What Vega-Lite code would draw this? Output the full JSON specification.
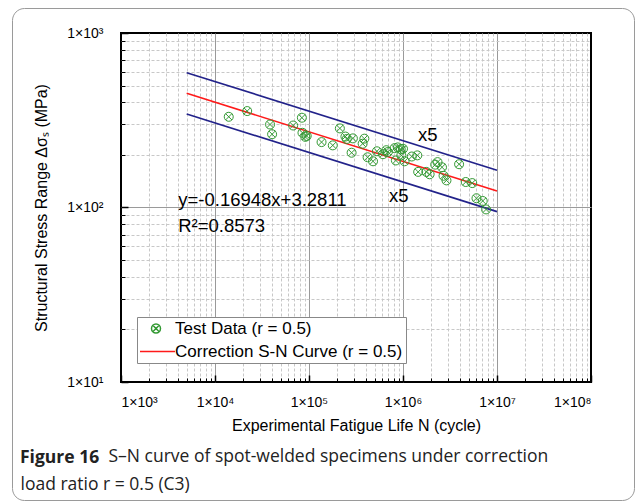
{
  "$schema": "https://vega.github.io/schema/vega-lite/v6.json",
  "width": 470,
  "height": 349,
  "autosize": "none",
  "padding": {"left": 121, "top": 33, "right": 46, "bottom": 121},
  "background": "white",
  "title": {
    "text": "Figure 16",
    "orient": "bottom",
    "anchor": "start",
    "frame": "group",
    "dx": -101,
    "offset": -52,
    "font": "Open Sans",
    "fontSize": 17.5,
    "fontWeight": "bold",
    "color": "#222"
  },
  "datasets": {
    "test": [
      {"N": 14000, "S": 331}, {"N": 22000, "S": 357}, {"N": 38500, "S": 299}, {"N": 40500, "S": 263},
      {"N": 67800, "S": 295}, {"N": 84000, "S": 327}, {"N": 85200, "S": 268}, {"N": 91400, "S": 254},
      {"N": 94500, "S": 257}, {"N": 136000, "S": 237}, {"N": 179000, "S": 227}, {"N": 213000, "S": 284},
      {"N": 244000, "S": 255}, {"N": 252000, "S": 247}, {"N": 293000, "S": 249}, {"N": 284000, "S": 206},
      {"N": 388000, "S": 248}, {"N": 372000, "S": 232}, {"N": 420000, "S": 194}, {"N": 480000, "S": 184},
      {"N": 528000, "S": 210}, {"N": 612000, "S": 202}, {"N": 665000, "S": 213}, {"N": 690000, "S": 208},
      {"N": 815000, "S": 219}, {"N": 840000, "S": 186}, {"N": 880000, "S": 221}, {"N": 946000, "S": 216},
      {"N": 1000000, "S": 217}, {"N": 960000, "S": 199}, {"N": 1040000, "S": 184}, {"N": 1240000, "S": 196},
      {"N": 1420000, "S": 199}, {"N": 1450000, "S": 160}, {"N": 1770000, "S": 160}, {"N": 1920000, "S": 155},
      {"N": 2200000, "S": 176}, {"N": 2330000, "S": 182}, {"N": 2600000, "S": 170}, {"N": 2700000, "S": 152},
      {"N": 2900000, "S": 143}, {"N": 3950000, "S": 177}, {"N": 4650000, "S": 140}, {"N": 5450000, "S": 138},
      {"N": 6050000, "S": 113}, {"N": 7050000, "S": 109}, {"N": 7650000, "S": 97.5}
    ],
    "fit": [
      {"N": 5000, "S": 451.0}, {"N": 10000000, "S": 124.4}
    ],
    "bands": [
      {"band": "upper", "N": 5000, "S": 592.6}, {"band": "upper", "N": 10000000, "S": 163.4},
      {"band": "lower", "N": 5000, "S": 343.4}, {"band": "lower", "N": 10000000, "S": 94.7}
    ],
    "notes": [
      {"N": 4065, "S": 110, "label": "y=-0.16948x+3.2811"},
      {"N": 4065, "S": 78, "label": "R²=0.8573"},
      {"N": 1440000, "S": 259, "label": "x5"},
      {"N": 710000, "S": 116, "label": "x5"}
    ]
  },
  "layer": [
    {
      "data": {"name": "bands"},
      "mark": {"type": "line", "color": "#22228a", "strokeWidth": 1.6},
      "encoding": {
        "x": {"field": "N", "type": "quantitative", "scale": {"type": "log", "domain": [1000, 100000000], "nice": false},
          "axis": {"orient": "bottom", "values": [2000,3000,4000,5000,6000,7000,8000,9000,20000,30000,40000,50000,60000,70000,80000,90000,200000,300000,400000,500000,600000,700000,800000,900000,2000000,3000000,4000000,5000000,6000000,7000000,8000000,9000000,20000000,30000000,40000000,50000000,60000000,70000000,80000000,90000000],
            "labels": false, "domain": false, "grid": true, "gridColor": "#c8c8c8", "gridDash": [3, 2], "gridWidth": 1,
            "ticks": true, "tickSize": -4, "tickColor": "#000", "tickWidth": 1,
            "title": "S–N curve of spot-welded specimens under correction", "titleX": -13, "titleY": 74,
            "titleAlign": "left", "titleAnchor": "start", "titleBaseline": "middle", "titleAngle": 0,
            "titleFont": "Open Sans", "titleFontSize": 17.5, "titleFontWeight": "normal", "titleColor": "#222"}},
        "y": {"field": "S", "type": "quantitative", "scale": {"type": "log", "domain": [10, 1000], "nice": false},
          "axis": {"orient": "left", "values": [20,30,40,50,60,70,80,90,200,300,400,500,600,700,800,900],
            "labels": false, "domain": false, "grid": true, "gridColor": "#c8c8c8", "gridDash": [3, 2], "gridWidth": 1,
            "ticks": true, "tickSize": -4, "tickColor": "#000", "tickWidth": 1,
            "title": "load ratio r = 0.5 (C3)", "titleX": -101, "titleY": 451,
            "titleAlign": "left", "titleAnchor": "start", "titleBaseline": "middle", "titleAngle": 0,
            "titleFont": "Open Sans", "titleFontSize": 17.5, "titleFontWeight": "normal", "titleColor": "#222"}},
        "detail": {"field": "band"}
      }
    },
    {
      "data": {"name": "fit"},
      "mark": {"type": "line", "strokeWidth": 1.6},
      "encoding": {
        "x": {"field": "N", "type": "quantitative", "axis": null},
        "y": {"field": "S", "type": "quantitative", "axis": null},
        "color": {"datum": "Correction S-N Curve (r = 0.5)", "type": "nominal"}
      }
    },
    {
      "data": {"name": "test"},
      "mark": {"type": "point", "filled": false, "strokeWidth": 1, "opacity": 1},
      "encoding": {
        "x": {"field": "N", "type": "quantitative",
          "axis": {"orient": "bottom", "values": [1000, 10000, 100000, 1000000, 10000000, 100000000],
            "labelExpr": "['1×10³','1×10⁴','1×10⁵','1×10⁶','1×10⁷','1×10⁸'][round(log(datum.value)/LN10)-3]",
            "labelFont": "Liberation Sans", "labelFontSize": 14, "labelColor": "#000", "labelPadding": 20,
            "domain": false, "grid": true, "gridColor": "#9a9a9a", "gridWidth": 1,
            "gridOpacity": {"condition": {"test": "datum.value <= 1000 || datum.value >= 100000000", "value": 0}, "value": 1},
            "ticks": true, "tickSize": -7, "tickColor": "#000", "tickWidth": 1.5,
            "title": "Experimental Fatigue Life N (cycle)", "titleFont": "Liberation Sans", "titleFontSize": 16, "titleFontWeight": "normal", "titleColor": "#000", "titlePadding": 8}},
        "y": {"field": "S", "type": "quantitative",
          "axis": {"orient": "left", "values": [10, 100, 1000],
            "labelExpr": "['1×10¹','1×10²','1×10³'][round(log(datum.value)/LN10)-1]",
            "labelFont": "Liberation Sans", "labelFontSize": 14, "labelColor": "#000", "labelPadding": 25,
            "domain": false, "grid": true, "gridColor": "#9a9a9a", "gridWidth": 1,
            "gridOpacity": {"condition": {"test": "datum.value <= 10 || datum.value >= 1000", "value": 0}, "value": 1},
            "ticks": true, "tickSize": -7, "tickColor": "#000", "tickWidth": 1.5,
            "title": "Structural Stress Range Δσₛ (MPa)", "titleFont": "Liberation Sans", "titleFontSize": 16, "titleFontWeight": "normal", "titleColor": "#000", "titlePadding": 17}},
        "color": {"datum": "Test Data (r = 0.5)", "type": "nominal",
          "scale": {"domain": ["Test Data (r = 0.5)", "Correction S-N Curve (r = 0.5)"], "range": ["#339933", "#ff1a1a"]},
          "legend": {"orient": "none", "legendX": 16, "legendY": 284, "title": null,
            "labelFont": "Liberation Sans", "labelFontSize": 17, "labelColor": "#000", "labelLimit": 400,
            "padding": 3, "rowPadding": 5, "clipHeight": 17, "symbolOffset": -4, "labelOffset": -1,
            "symbolStrokeWidth": 1.5, "symbolFillColor": "transparent",
            "strokeColor": "#888", "fillColor": "white", "cornerRadius": 0}},
        "shape": {"datum": "Test Data (r = 0.5)", "type": "nominal",
          "scale": {"domain": ["Test Data (r = 0.5)", "Correction S-N Curve (r = 0.5)"],
            "range": ["M-1,0A1,1 0 1,1 1,0A1,1 0 1,1 -1,0Z M-0.7071,-0.7071L0.7071,0.7071 M-0.7071,0.7071L0.7071,-0.7071", "stroke"]}},
        "size": {"datum": "Test Data (r = 0.5)", "type": "ordinal",
          "scale": {"domain": ["Test Data (r = 0.5)", "Correction S-N Curve (r = 0.5)"], "range": [81, 1444]}}
      }
    },
    {
      "data": {"name": "notes"},
      "mark": {"type": "text", "align": "left", "baseline": "middle", "font": "Liberation Sans", "fontSize": 18.5},
      "encoding": {
        "x": {"field": "N", "type": "quantitative", "axis": null},
        "y": {"field": "S", "type": "quantitative", "axis": null},
        "text": {"field": "label"},
        "fill": {"field": "S", "type": "quantitative",
          "scale": {"range": ["#000000", "#000000"]},
          "legend": {"orient": "none", "legendX": -109, "legendY": -25, "direction": "vertical", "title": null,
            "gradientLength": 492, "gradientThickness": 620, "gradientOpacity": 0, "gradientStrokeWidth": 0,
            "labelOpacity": 0, "labelFontSize": 1, "labelOffset": 0, "tickCount": 2, "padding": 0,
            "strokeColor": "#9a9a9a", "fillColor": null, "cornerRadius": 12}}
      }
    }
  ],
  "resolve": {"axis": {"x": "independent", "y": "independent"}},
  "config": {
    "font": "Liberation Sans",
    "view": {"stroke": "#000", "strokeWidth": 2}
  }
}
